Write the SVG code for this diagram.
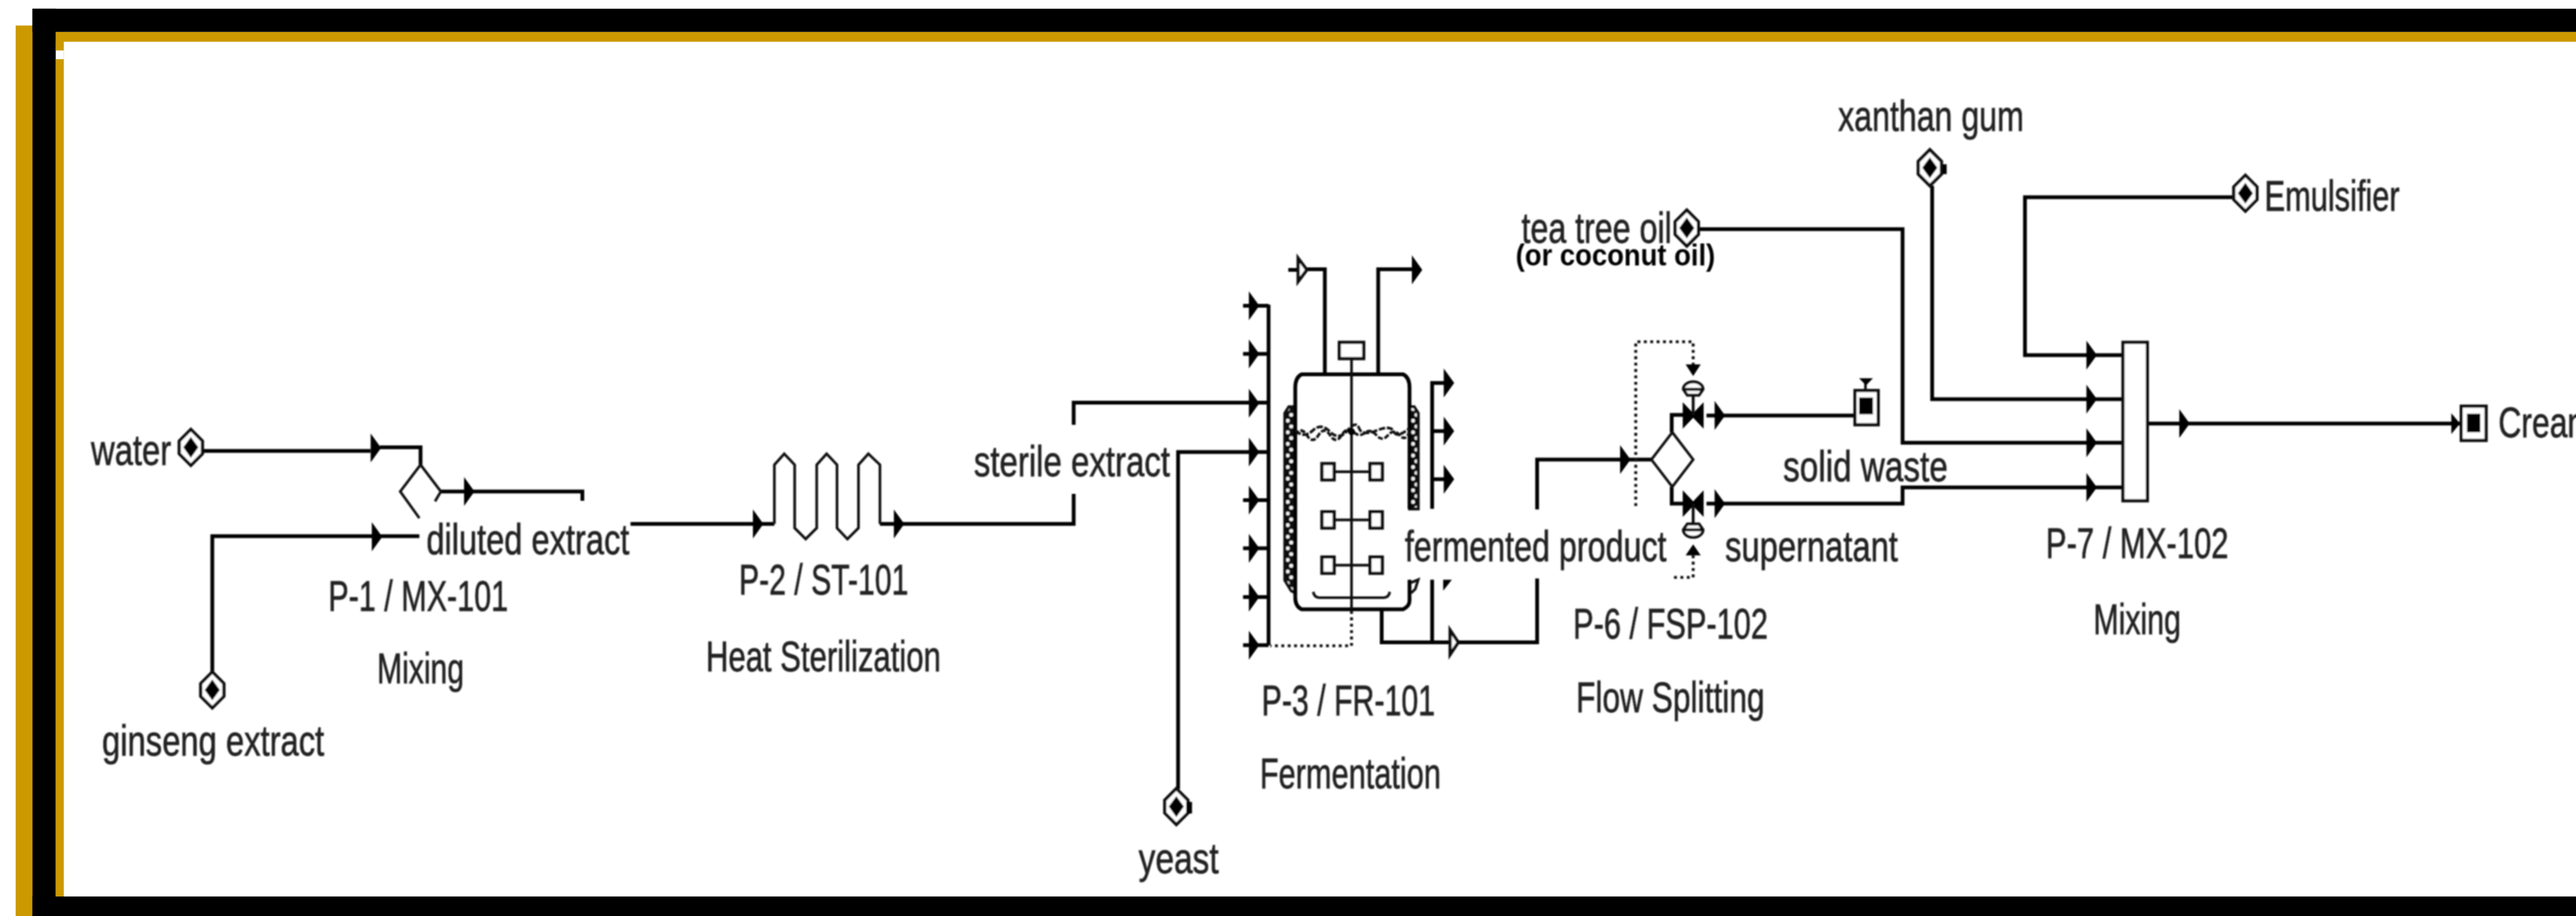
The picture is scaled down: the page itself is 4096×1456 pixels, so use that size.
<svg xmlns="http://www.w3.org/2000/svg" width="4096" height="1456" viewBox="0 0 4096 1456">
<style>
.p{fill:none;stroke:#050505;stroke-width:6.5;stroke-linejoin:miter}
.t{fill:none;stroke:#0a0a0a;stroke-width:4.5}
.w{fill:#fff;stroke:#0a0a0a;stroke-width:5.5}
.d{fill:none;stroke:#111;stroke-width:5;stroke-dasharray:5 6}
.k{fill:#000}
.lb{font-family:"Liberation Sans",Arial,sans-serif;font-size:58px;fill:#222;stroke:#222;stroke-width:0.8}
.bd{font-family:"Liberation Sans",Arial,sans-serif;font-size:47px;font-weight:700;fill:#000}
</style>
<defs>
<polygon id="arr" points="0,-25 18,0 0,25" fill="#000"/>
<g id="feed"><polygon points="0,-31 20,-11 20,11 0,31 -20,11 -20,-11" fill="#fff" stroke="#0a0a0a" stroke-width="5.5"/><polygon points="0,-18 13,0 0,18 -13,0" fill="#000"/></g>
<g id="valve"><polygon points="-18,-23 0,-4 18,-23 18,23 0,4 -18,23" fill="#000"/><path d="M0,0V-35" stroke="#111" stroke-width="5"/><path d="M-17,-45A17,13 0 0 1 17,-45L10,-35H-10Z M-17,-45H17" fill="#fff" stroke="#111" stroke-width="5"/></g>
<pattern id="jk" width="18" height="20" patternUnits="userSpaceOnUse"><rect width="18" height="20" fill="#111"/><circle cx="6" cy="5" r="3.2" fill="#fff"/><circle cx="12" cy="15" r="3.2" fill="#fff"/></pattern>
<filter id="soft" filterUnits="userSpaceOnUse" x="0" y="0" width="4441" height="1579"><feGaussianBlur stdDeviation="0.9"/></filter>
</defs>
<rect width="4096" height="1456" fill="#fff"/>
<g transform="scale(0.92232)">
<g id="frame">
<rect x="27" y="44" width="30" height="1535" fill="#cc9900"/>
<rect x="96" y="55" width="4345" height="17" fill="#cc9900"/>
<rect x="96" y="55" width="14" height="1490" fill="#cc9900"/>
<rect x="96" y="87" width="14" height="15" fill="#fff"/>
<rect x="56" y="15" width="40" height="1564" fill="#000"/>
<rect x="56" y="15" width="4385" height="40" fill="#000"/>
<rect x="56" y="1545" width="4385" height="34" fill="#000"/>
</g>
<g filter="url(#soft)">
<g id="connectors">
<path class="p" d="M350,777H639M655,771H725V801"/>
<path class="p" d="M366,1158V924H723"/>
<path class="p" d="M760,847H1004V863"/>
<path class="p" d="M1087,903H1335"/>
<path class="p" d="M1517,903H1851V851"/>
<path class="p" d="M1851,732V694H2187"/>
<path class="p" d="M2031,1360V779H2187"/>
<path class="p" d="M2187,525V1112"/>
<path class="p" d="M2143,527H2187M2143,610H2187M2143,862H2187M2143,945H2187M2143,1029H2187M2143,1112H2187"/>
<path class="p" d="M2284,645V464H2253M2238,465H2221"/>
<path class="p" d="M2376,645V464H2434"/>
<path class="p" d="M2469,877V660H2490M2469,743H2490M2469,826H2490"/>
<path class="p" d="M2469,999V1107"/>
<path class="p" d="M2382,1050V1107H2650V997"/>
<path class="p" d="M2650,878V792H2847"/>
<path class="d" d="M2330,1053V1113H2190"/>
<path class="d" d="M2820,872V589H2919V630"/>
<path class="d" d="M2919,957V995H2886"/>
<path class="p" d="M2882,745V715H2902"/>
<path class="p" d="M2882,839V868H2902"/>
<path class="p" d="M2942,716H3197"/>
<path class="p" d="M2942,868H3280V840H3660"/>
<path class="p" d="M2930,395H3280V763H3660"/>
<path class="p" d="M3331,320V688H3660"/>
<path class="p" d="M3853,340H3491V612H3660"/>
<path class="p" d="M3702,730H4242"/>
<g id="arrowheads">
<use href="#arr" x="639" y="772"/><use href="#arr" x="641" y="925"/><use href="#arr" x="800" y="847"/>
<use href="#arr" x="1298" y="903"/><use href="#arr" x="1541" y="903"/>
<use href="#arr" x="2153" y="527"/><use href="#arr" x="2153" y="610"/><use href="#arr" x="2153" y="695"/><use href="#arr" x="2153" y="779"/><use href="#arr" x="2153" y="862"/><use href="#arr" x="2153" y="945"/><use href="#arr" x="2153" y="1029"/><use href="#arr" x="2153" y="1112"/>
<use href="#arr" x="2434" y="465"/>
<use href="#arr" x="2489" y="660"/><use href="#arr" x="2489" y="743"/><use href="#arr" x="2489" y="826"/>
<polygon points="2488,999 2503,999 2488,1018" fill="#000"/>
<polygon class="w" points="2238,445 2253,465 2238,485"/>
<polygon class="w" points="2500,1086 2514,1107 2500,1128"/>
<use href="#arr" x="2793" y="792"/>
<use href="#arr" x="2956" y="716"/><use href="#arr" x="2956" y="868"/>
<polygon points="2906,628 2932,628 2919,648" fill="#000"/>
<polygon points="2906,957 2932,957 2919,938" fill="#000"/>
<use href="#arr" x="3597" y="612"/><use href="#arr" x="3597" y="688"/><use href="#arr" x="3597" y="763"/><use href="#arr" x="3597" y="840"/>
<use href="#arr" x="3757" y="730"/>
<polygon points="4226,712 4241,730 4226,748" fill="#000"/>
</g>
</g>
<g id="water"><use href="#feed" x="329" y="771"/><text class="lb" transform="translate(157 801) scale(1 1.29)" textLength="138" lengthAdjust="spacingAndGlyphs">water</text></g>
<g id="ginseng-extract"><use href="#feed" x="366" y="1189"/><text class="lb" transform="translate(176 1302) scale(1 1.29)" textLength="383" lengthAdjust="spacingAndGlyphs">ginseng extract</text></g>
<g id="P-1">
<path class="t" d="M750,864L760,847L725,801L690,847L723,893"/>
<text class="lb" transform="translate(735 955) scale(1 1.29)" textLength="350" lengthAdjust="spacingAndGlyphs">diluted extract</text>
<text class="lb" transform="translate(566 1053) scale(1 1.29)" textLength="310" lengthAdjust="spacingAndGlyphs">P-1 / MX-101</text>
<text class="lb" transform="translate(650 1177) scale(1 1.29)" textLength="150" lengthAdjust="spacingAndGlyphs">Mixing</text>
</g>
<g id="P-2">
<path class="t" d="M1335,903V801L1352,782L1370,801V910L1389,929L1408,910V801L1425,782L1443,801V910L1461,929L1480,910V801L1497,782L1517,801V903"/>
<text class="lb" transform="translate(1274 1025) scale(1 1.29)" textLength="292" lengthAdjust="spacingAndGlyphs">P-2 / ST-101</text>
<text class="lb" transform="translate(1217 1157) scale(1 1.29)" textLength="405" lengthAdjust="spacingAndGlyphs">Heat Sterilization</text>
</g>
<text id="sterile-extract" class="lb" transform="translate(1679 821) scale(1 1.29)" textLength="338" lengthAdjust="spacingAndGlyphs">sterile extract</text>
<g id="yeast"><use href="#feed" x="2028" y="1390"/><rect class="k" x="2045" y="1382" width="10" height="20"/><text class="lb" transform="translate(1963 1505) scale(1 1.29)" textLength="138" lengthAdjust="spacingAndGlyphs">yeast</text></g>
<g id="P-3">
<path d="M2233,701H2222L2215,712V1000L2226,1018L2233,1022Z" fill="url(#jk)" stroke="#0a0a0a" stroke-width="5"/>
<path d="M2430,701H2438L2445,712V877H2430Z" fill="url(#jk)" stroke="#0a0a0a" stroke-width="5"/>
<path class="t" d="M2433,1004L2445,999L2440,1015L2433,1022"/>
<path class="p" d="M2430,877V668Q2430,650 2419,645H2244Q2233,650 2233,668V1030Q2233,1045 2244,1050H2419Q2430,1045 2430,1035V999"/>
<path class="t" stroke-dasharray="9 3" d="M2233,750Q2243,734 2253,750T2273,750T2293,750T2313,750T2333,744T2353,746T2373,750T2393,750T2413,750T2430,744"/>
<path class="t" stroke-dasharray="11 3" d="M2233,742Q2248,756 2263,742T2293,744T2323,742T2343,738T2373,742T2403,744T2430,738"/>
<path class="t" stroke-width="5" d="M2330,619V1050"/>
<rect class="w" x="2309" y="590" width="42" height="28"/>
<path class="t" d="M2300,813H2362M2300,896H2362M2300,974H2362"/>
<rect class="w" x="2279" y="799" width="21" height="28"/><rect class="w" x="2362" y="799" width="21" height="28"/>
<rect class="w" x="2279" y="882" width="21" height="28"/><rect class="w" x="2362" y="882" width="21" height="28"/>
<rect class="w" x="2279" y="960" width="21" height="28"/><rect class="w" x="2362" y="960" width="21" height="28"/>
<path class="t" stroke-width="5" d="M2264,1020Q2266,1030 2274,1030H2386Q2394,1030 2396,1020"/>
<circle class="k" cx="2330" cy="744" r="6"/>
<text class="lb" transform="translate(2175 1233) scale(1 1.29)" textLength="299" lengthAdjust="spacingAndGlyphs">P-3 / FR-101</text>
<text class="lb" transform="translate(2172 1358) scale(1 1.29)" textLength="312" lengthAdjust="spacingAndGlyphs">Fermentation</text>
</g>
<text id="fermented-product" class="lb" transform="translate(2422 967) scale(1 1.29)" textLength="451" lengthAdjust="spacingAndGlyphs">fermented product</text>
<g id="P-6">
<polygon class="t" points="2883,745 2919,792 2883,839 2847,792"/>
<use href="#valve" x="2919" y="716"/>
<use href="#valve" transform="translate(2919,868) scale(1,-1)"/>
<text class="lb" transform="translate(2712 1101) scale(1 1.29)" textLength="336" lengthAdjust="spacingAndGlyphs">P-6 / FSP-102</text>
<text class="lb" transform="translate(2717 1227) scale(1 1.29)" textLength="325" lengthAdjust="spacingAndGlyphs">Flow Splitting</text>
</g>
<g id="solid-waste">
<rect class="w" x="3198" y="673" width="40" height="59"/>
<rect class="k" x="3205" y="685" width="24" height="29"/>
<path class="t" d="M3216,660V673"/><polygon points="3205,652 3229,652 3217,664" fill="#000"/>
<text class="lb" transform="translate(3074 829) scale(1 1.29)" textLength="284" lengthAdjust="spacingAndGlyphs">solid waste</text>
</g>
<text id="supernatant" class="lb" transform="translate(2974 967) scale(1 1.29)" textLength="298" lengthAdjust="spacingAndGlyphs">supernatant</text>
<g id="tea-tree-oil"><use href="#feed" x="2908" y="393"/>
<text class="lb" transform="translate(2623 418) scale(1 1.29)" textLength="259" lengthAdjust="spacingAndGlyphs">tea tree oil</text>
<text class="bd" transform="translate(2613 458) scale(1 1.12)" textLength="344" lengthAdjust="spacingAndGlyphs">(or coconut oil)</text></g>
<g id="xanthan-gum"><use href="#feed" x="3327" y="289"/><rect class="k" x="3349" y="283" width="7" height="17"/><text class="lb" transform="translate(3169 225) scale(1 1.29)" textLength="320" lengthAdjust="spacingAndGlyphs">xanthan gum</text></g>
<g id="emulsifier"><use href="#feed" x="3871" y="333"/><text class="lb" transform="translate(3904 363) scale(1 1.29)" textLength="233" lengthAdjust="spacingAndGlyphs">Emulsifier</text></g>
<g id="P-7">
<rect class="w" x="3660" y="590" width="42" height="273"/>
<text class="lb" transform="translate(3527 962) scale(1 1.29)" textLength="315" lengthAdjust="spacingAndGlyphs">P-7 / MX-102</text>
<text class="lb" transform="translate(3609 1093) scale(1 1.29)" textLength="151" lengthAdjust="spacingAndGlyphs">Mixing</text>
</g>
<g id="cream">
<rect class="w" x="4243" y="700" width="43" height="59"/>
<rect class="k" x="4253" y="713" width="23" height="32"/>
<text class="lb" transform="translate(4307 753) scale(1 1.29)" textLength="165" lengthAdjust="spacingAndGlyphs">Cream</text>
</g>
</g>
</g>
</svg>
